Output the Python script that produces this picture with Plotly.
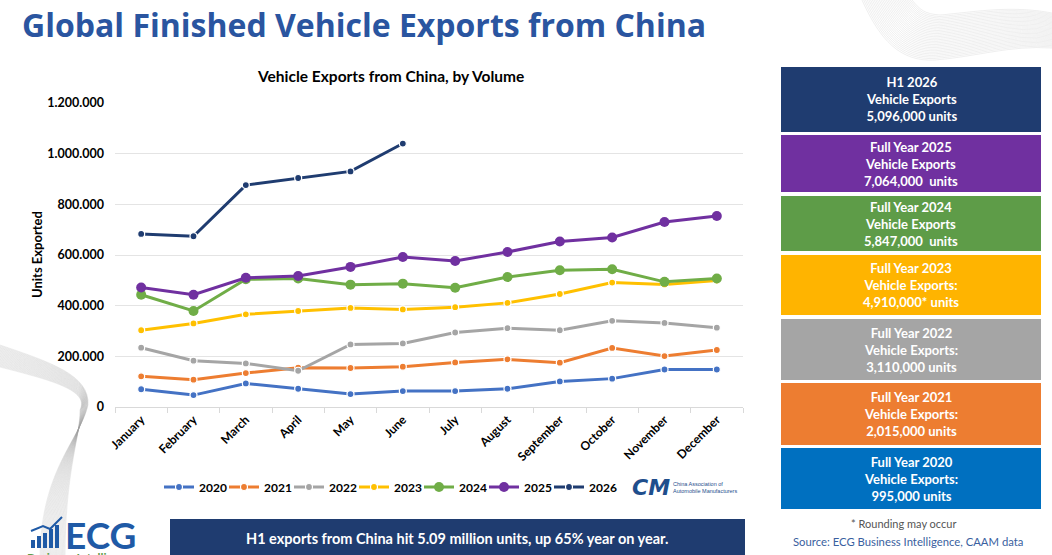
import plotly.graph_objects as go

W, H = 1052, 555

months = ["January", "February", "March", "April", "May", "June", "July",
          "August", "September", "October", "November", "December"]

exports_2020 = [70000, 47000, 93000, 72000, 51000, 63000, 63000, 72000, 101000, 112000, 148000, 148000]
exports_2021 = [121000, 108000, 134000, 155000, 154000, 159000, 176000, 188000, 175000, 233000, 201000, 225000]
exports_2022 = [234000, 183000, 172000, 143000, 247000, 251000, 294000, 311000, 303000, 340000, 332000, 313000]
exports_2023 = [303000, 330000, 366000, 379000, 391000, 385000, 394000, 411000, 446000, 491000, 484000, 499000]
exports_2024 = [443000, 379000, 504000, 507000, 483000, 487000, 471000, 513000, 540000, 544000, 494000, 507000]
exports_2025 = [472000, 443000, 510000, 517000, 553000, 592000, 576000, 612000, 653000, 669000, 730000, 754000]
exports_2026 = [683000, 674000, 876000, 904000, 930000, 1040000]

y_ticks = [0, 200000, 400000, 600000, 800000, 1000000, 1200000]

box_lines = [
    ["H1 2026", "Vehicle Exports", "5,096,000 units"],
    ["Full Year 2025", "Vehicle Exports", "7,064,000  units"],
    ["Full Year 2024", "Vehicle Exports", "5,847,000  units"],
    ["Full Year 2023", "Vehicle Exports:", "4,910,000* units"],
    ["Full Year 2022", "Vehicle Exports:", "3,110,000 units"],
    ["Full Year 2021", "Vehicle Exports:", "2,015,000 units"],
    ["Full Year 2020", "Vehicle Exports:", "995,000 units"],
]
box_colors = ["#1F3C70", "#7030A0", "#5E9C48", "#FFB400", "#A5A5A5", "#ED7D31", "#0070C0"]
box_y = [(67, 132), (135, 192), (196, 251), (255, 315), (319, 380), (383, 445), (448, 509)]

series = [
    ("2020", exports_2020, "#4472C4", 7, True),
    ("2021", exports_2021, "#ED7D31", 7, True),
    ("2022", exports_2022, "#A5A5A5", 7, True),
    ("2023", exports_2023, "#FFC000", 7, True),
    ("2024", exports_2024, "#70AD47", 10, False),
    ("2025", exports_2025, "#7030A0", 10, False),
    ("2026", exports_2026, "#1F3C70", 7, True),
]


def px(x):
    return x / W


def py(y):
    return 1 - y / H


fig = go.Figure()
for name, vals, col, msize, outline in series:
    fig.add_trace(go.Scatter(
        x=months[:len(vals)], y=vals, name=name, mode="lines+markers",
        line=dict(color=col, width=3),
        marker=dict(size=msize, color=col,
                    line=dict(color="white" if outline else col, width=1.2 if outline else 0)),
    ))
# empty spacer entry so the last legend label is not clipped
fig.add_trace(go.Scatter(x=[None], y=[None], name=" ", mode="lines",
                         line=dict(color="rgba(0,0,0,0)"), hoverinfo="skip"))

shapes = []
annotations = []

# right-hand summary boxes
for (y0, y1), col, lines in zip(box_y, box_colors, box_lines):
    shapes.append(dict(type="rect", xref="paper", yref="paper",
                       x0=px(781), x1=px(1041), y0=py(y1), y1=py(y0),
                       fillcolor=col, line=dict(width=0), layer="below"))
    annotations.append(dict(xref="paper", yref="paper", x=px(911), y=py((y0 + y1) / 2),
                            text="<br>".join(lines), showarrow=False,
                            font=dict(family="Lato", size=13, color="white", weight="bold"),
                            align="center", xanchor="center", yanchor="middle"))

# decorative waves (top right)
for i in range(30):
    t = i / 29
    path = "M {} {} C {} {}, {} {}, {} {} C {} {}, {} {}, {} {}".format(
        px(862 + 50 * t), py(0),
        px(880 + 40 * t), py(40 - 30 * t), px(900 + 25 * t), py(62 - 48 * t),
        px(935 + 5 * t), py(60 - 45 * t),
        px(975), py(57 - 45 * t), px(1010), py(45 - 40 * t),
        px(1052), py(48 - 35 * t))
    shapes.append(dict(type="path", xref="paper", yref="paper", path=path,
                       line=dict(color="rgba(160,160,160,0.28)", width=0.6), layer="below"))

# decorative waves (bottom left)
for i in range(30):
    t = i / 29
    path = "M {} {} C {} {}, {} {}, {} {} C {} {}, {} {}, {} {}".format(
        px(0), py(345 + 22 * t),
        px(50), py(362 + 18 * t), px(90), py(375 + 15 * t),
        px(88 - 8 * t), py(405 + 5 * t),
        px(80), py(440), px(40 + 25 * t), py(470),
        px(40 + 25 * t), py(560))
    shapes.append(dict(type="path", xref="paper", yref="paper", path=path,
                       line=dict(color="rgba(160,160,160,0.28)", width=0.6), layer="below"))

# bottom banner
shapes.append(dict(type="rect", xref="paper", yref="paper",
                   x0=px(170), x1=px(745), y0=py(556), y1=py(519),
                   fillcolor="#1F3C70", line=dict(width=0)))
annotations.append(dict(xref="paper", yref="paper", x=px(457), y=py(538),
                        text="H1 exports from China hit 5.09 million units, up 65% year on year.",
                        showarrow=False, font=dict(family="Lato", size=14.5, color="white", weight="bold"),
                        xanchor="center", yanchor="middle"))

# ECG logo
for i, h in enumerate([8, 12, 15, 19, 23]):
    shapes.append(dict(type="rect", xref="paper", yref="paper",
                       x0=px(31 + i * 6), x1=px(35 + i * 6), y0=py(548), y1=py(548 - h),
                       fillcolor="#1F5AA6", line=dict(width=0)))
shapes.append(dict(type="path", xref="paper", yref="paper",
                   path="M {} {} L {} {} L {} {} L {} {}".format(px(31), py(531), px(43), py(526), px(50), py(529), px(62), py(517)),
                   line=dict(color="#1F5AA6", width=2)))
annotations.append(dict(xref="paper", yref="paper", x=px(63), y=py(534), text="ECG",
                        showarrow=False, font=dict(family="Lato", size=37, color="#1F5AA6", weight="bold"),
                        xanchor="left", yanchor="middle"))
annotations.append(dict(xref="paper", yref="paper", x=px(83), y=py(557), text="Business Intelligence",
                        showarrow=False, font=dict(family="Lato", size=12, color="#5E9C48", weight="bold"),
                        xanchor="center", yanchor="middle"))

# CAAM logo
annotations.append(dict(xref="paper", yref="paper", x=px(651), y=py(487), text="<i>CM</i>",
                        showarrow=False, font=dict(family="DejaVu Sans", size=22, color="#1F4E8C", weight="bold"),
                        xanchor="center", yanchor="middle"))
annotations.append(dict(xref="paper", yref="paper", x=px(671), y=py(487),
                        text="China Association of<br>Automobile Manufacturers",
                        showarrow=False, font=dict(family="Liberation Sans", size=5.5, color="#1F4E8C"),
                        xanchor="left", yanchor="middle", align="left"))

# titles
annotations.append(dict(xref="paper", yref="paper", x=px(20), y=py(25),
                        text="Global Finished Vehicle Exports from China", showarrow=False,
                        font=dict(family="Open Sans", size=32, color="#2A55A0", weight="bold"),
                        xanchor="left", yanchor="middle"))
annotations.append(dict(xref="paper", yref="paper", x=px(390), y=py(76),
                        text="Vehicle Exports from China, by Volume", showarrow=False,
                        font=dict(family="Lato", size=15.5, color="black", weight="bold"),
                        xanchor="center", yanchor="middle"))
annotations.append(dict(xref="paper", yref="paper", x=px(37), y=py(255),
                        text="Units Exported", showarrow=False, textangle=-90,
                        font=dict(family="Lato", size=13, color="black", weight="bold"),
                        xanchor="center", yanchor="middle"))

# footnotes
annotations.append(dict(xref="paper", yref="paper", x=px(903), y=py(523),
                        text="* Rounding may occur", showarrow=False,
                        font=dict(family="Lato", size=11, color="#555555"),
                        xanchor="center", yanchor="middle"))
annotations.append(dict(xref="paper", yref="paper", x=px(908), y=py(541),
                        text="Source: ECG Business Intelligence, CAAM data", showarrow=False,
                        font=dict(family="Lato", size=11.3, color="#3A5FA0"),
                        xanchor="center", yanchor="middle"))

fig.update_layout(
    width=W, height=H,
    margin=dict(l=0, r=0, t=0, b=0, autoexpand=False),
    paper_bgcolor="white", plot_bgcolor="white",
    separators=",.",
    showlegend=True,
    legend=dict(orientation="h", x=px(159), y=py(487), xanchor="left", yanchor="middle",
                font=dict(family="Lato", size=12, color="black", weight="bold"),
                itemwidth=30, entrywidth=20, entrywidthmode="pixels",
                tracegroupgap=0, bgcolor="rgba(0,0,0,0)"),
    xaxis=dict(domain=[px(115), px(743)], type="category", categoryorder="array",
               categoryarray=months, range=[-0.5, 11.5],
               tickangle=-45, tickfont=dict(family="Lato", size=12, color="black", weight="bold"),
               showgrid=False, showline=True, linecolor="#D9D9D9", linewidth=1,
               ticks="outside", tickson="boundaries", ticklen=5, tickcolor="#D9D9D9",
               automargin=False),
    yaxis=dict(domain=[py(407), py(103)], range=[0, 1200000],
               tickvals=y_ticks, tickformat=",d",
               tickfont=dict(family="Lato", size=12.5, color="black", weight="bold"),
               showgrid=True, gridcolor="#E4E4E4", gridwidth=1, zeroline=False,
               showline=False, ticks="", ticklabelstandoff=10, automargin=False),
    shapes=shapes,
    annotations=annotations,
)

fig.write_html("out.html", config={"displayModeBar": False},
               post_script="document.body.style.margin='0';document.body.style.overflow='hidden';")
